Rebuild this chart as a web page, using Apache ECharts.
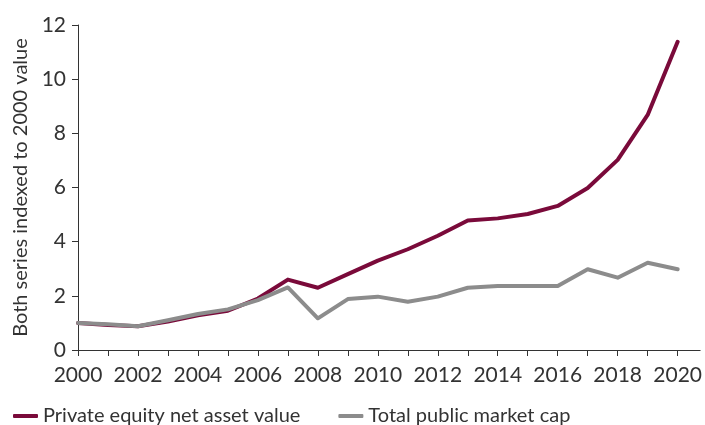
<!DOCTYPE html>
<html>
  <head>
    <meta charset="UTF-8" />
    <title>Private equity vs public market cap</title>
    <style>
      html, body { margin: 0; padding: 0; background: #fff; }
      #chart { width: 705px; height: 425px; }
    </style>
    <script src="https://cdn.jsdelivr.net/npm/echarts@6/dist/echarts.min.js"></script>
  </head>
  <body>
    <div id="chart"></div>
    <script>
      // data
      var years = [2000, 2001, 2002, 2003, 2004, 2005, 2006, 2007, 2008, 2009, 2010,
                   2011, 2012, 2013, 2014, 2015, 2016, 2017, 2018, 2019, 2020];
      var privateEquity = [1.0, 0.92, 0.88, 1.05, 1.28, 1.45, 1.9, 2.6, 2.3, 2.8, 3.3,
                           3.72, 4.22, 4.78, 4.86, 5.02, 5.32, 5.98, 7.02, 8.68, 11.38];
      var publicMarket = [1.0, 0.95, 0.88, 1.1, 1.33, 1.5, 1.84, 2.31, 1.17, 1.88, 1.97,
                          1.78, 1.97, 2.3, 2.36, 2.36, 2.36, 2.98, 2.67, 3.22, 2.98];
      var yearLabels = [2000, 2002, 2004, 2006, 2008, 2010, 2012, 2014, 2016, 2018, 2020];

      var FONT = "Lato";
      var TXT = "#333";

      function pairs(vals) {
        return vals.map(function (v, i) { return [years[i], v]; });
      }

      var myChart = echarts.init(document.getElementById("chart"));
      var option = {
        animation: false,
        textStyle: { fontFamily: FONT },
        grid: { left: 78, right: 2, top: 25, bottom: 75 },
        legend: {
          top: 401,
          left: 8,
          itemWidth: 25,
          itemHeight: 4,
          itemGap: 38,
          icon: "roundRect",
          textStyle: { fontFamily: FONT, fontSize: 20, color: TXT },
          data: ["Private equity net asset value", "Total public market cap"]
        },
        xAxis: {
          type: "value",
          min: 2000,
          max: 2020.75,
          splitLine: { show: false },
          axisLine: { lineStyle: { color: "#333", width: 1 } },
          axisTick: { show: true, length: 6, lineStyle: { color: "#333" }, customValues: years },
          axisLabel: {
            fontSize: 21, color: TXT, margin: 15, fontFamily: FONT,
            customValues: yearLabels,
            formatter: function (v) { return String(v); }
          }
        },
        yAxis: {
          type: "value",
          min: 0,
          max: 12,
          interval: 2,
          name: "Both series indexed to 2000 value",
          nameLocation: "middle",
          nameGap: 46,
          nameTextStyle: { fontSize: 20, color: TXT, fontFamily: FONT },
          splitLine: { show: false },
          axisLine: { show: true, lineStyle: { color: "#333", width: 1 } },
          axisTick: { show: true, length: 6, lineStyle: { color: "#333" } },
          axisLabel: { fontSize: 21, color: TXT, margin: 12, fontFamily: FONT }
        },
        series: [
          {
            name: "Private equity net asset value",
            type: "line",
            data: pairs(privateEquity),
            symbol: "none",
            color: "#7a0a3a",
            lineStyle: { width: 4, color: "#7a0a3a", join: "round", cap: "round" }
          },
          {
            name: "Total public market cap",
            type: "line",
            data: pairs(publicMarket),
            symbol: "none",
            color: "#8c8c8c",
            lineStyle: { width: 4, color: "#8c8c8c", join: "round", cap: "round" }
          }
        ]
      };
      myChart.setOption(option);
    </script>
  </body>
</html>
